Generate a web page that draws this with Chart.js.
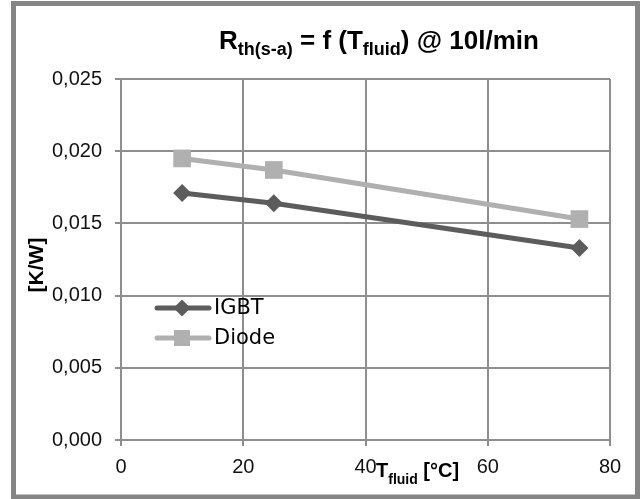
<!DOCTYPE html>
<html>
<head>
<meta charset="utf-8">
<script src="https://cdn.jsdelivr.net/npm/chart.js@4/dist/chart.umd.min.js"></script>
<style>
  html, body { margin: 0; padding: 0; background: #fff; }
  #wrap { width: 640px; height: 499px; position: relative; }
</style>
</head>
<body>
<div id="wrap"><canvas id="rthChart" width="640" height="499"></canvas></div>
<script>
// fluid temperature [°C] and thermal resistance heatsink-ambient [K/W]
var tFluid = [10, 25, 75];
var rthIgbt = [0.0171, 0.0164, 0.0133];
var rthDiode = [0.0195, 0.0187, 0.0153];
var seriesNames = ["IGBT", "Diode"];
var xTicks = [0, 20, 40, 60, 80];
var yTicks = [0, 0.005, 0.010, 0.015, 0.020, 0.025];

var igbtColor = '#5c5c5c';
var diodeColor = '#b0b0b0';
var gridColor = '#8e8e8e';

function toPoints(xs, ys) {
    return xs.map(function (x, i) { return { x: x, y: ys[i] }; });
}

// text pieces: [text, font, baseline shift]
function drawRich(ctx, x, y, parts) {
    parts.forEach(function (p) {
        ctx.font = p[1];
        ctx.fillText(p[0], x, y + p[2]);
        x += ctx.measureText(p[0]).width;
    });
}

var frameAndTitles = {
    id: 'frameAndTitles',
    beforeDraw: function (chart) {
        var ctx = chart.ctx;
        ctx.save();
        ctx.fillStyle = '#fff';
        ctx.fillRect(0, 0, chart.width, chart.height);
        ctx.restore();
    },
    afterDraw: function (chart) {
        var ctx = chart.ctx;
        ctx.save();
        // outer frame
        ctx.strokeStyle = '#858585';
        ctx.lineWidth = 5;
        ctx.strokeRect(13.5, 3.5, 624, 493.5);

        ctx.fillStyle = '#000';
        ctx.textBaseline = 'alphabetic';
        ctx.textAlign = 'left';
        var big = 'bold 26px "Liberation Sans", Arial, sans-serif';
        var sub = 'bold 18px "Liberation Sans", Arial, sans-serif';
        drawRich(ctx, 219, 49, [
            ['R', big, 0], ['th(s-a)', sub, 6], [' = f (T', big, 0],
            ['fluid', sub, 6], [') @ 10l/min', big, 0]
        ]);

        // x axis title
        var xb = 'bold 20px "Liberation Sans", Arial, sans-serif';
        var xs = 'bold 14px "Liberation Sans", Arial, sans-serif';
        drawRich(ctx, 376, 477, [['T', xb, 0], ['fluid', xs, 7], [' [°C]', xb, 0]]);

        // y axis title
        ctx.translate(37, 265);
        ctx.rotate(-Math.PI / 2);
        ctx.textAlign = 'center';
        ctx.textBaseline = 'middle';
        ctx.font = 'bold 21px "Liberation Sans", Arial, sans-serif';
        ctx.fillText('[K/W]', 0, 0);
        ctx.restore();

        // legend: line sample with marker
        ctx.save();
        chart.data.datasets.forEach(function (ds, i) {
            var ly = 308 + i * 30;
            ctx.strokeStyle = ds.borderColor;
            ctx.lineWidth = 5;
            ctx.lineCap = 'round';
            ctx.beginPath();
            ctx.moveTo(157, ly);
            ctx.lineTo(209, ly);
            ctx.stroke();
            ctx.fillStyle = ds.borderColor;
            ctx.beginPath();
            if (ds.pointStyle === 'rectRot') {
                ctx.moveTo(182, ly - 8.5);
                ctx.lineTo(190.5, ly);
                ctx.lineTo(182, ly + 8.5);
                ctx.lineTo(173.5, ly);
                ctx.closePath();
            } else {
                ctx.rect(174, ly - 8, 16, 16);
            }
            ctx.fill();
            ctx.fillStyle = '#000';
            ctx.font = '21px "DejaVu Sans", sans-serif';
            ctx.textBaseline = 'middle';
            ctx.fillText(ds.label, 214, ly + 1);
        });
        ctx.restore();
    }
};

var rthChart = new Chart(document.getElementById('rthChart'), {
    type: 'line',
    data: {
        datasets: [{
            label: seriesNames[0],
            data: toPoints(tFluid, rthIgbt),
            borderColor: igbtColor,
            backgroundColor: igbtColor,
            borderWidth: 5,
            pointStyle: 'rectRot',
            pointRadius: 9,
            pointBorderWidth: 0,
            pointBackgroundColor: igbtColor,
            tension: 0
        }, {
            label: seriesNames[1],
            data: toPoints(tFluid, rthDiode),
            borderColor: diodeColor,
            backgroundColor: diodeColor,
            borderWidth: 5,
            pointStyle: 'rect',
            pointRadius: 12.5,
            pointBorderWidth: 0,
            pointBackgroundColor: diodeColor,
            tension: 0
        }]
    },
    options: {
        responsive: false,
        animation: false,
        devicePixelRatio: 1,
        layout: { padding: { top: 79, right: 30, left: 0, bottom: 0 } },
        plugins: {
            legend: { display: false },
            title: { display: false },
            tooltip: { enabled: false }
        },
        scales: {
            x: {
                type: 'linear',
                min: 0,
                max: 80,
                afterFit: function (scale) { scale.height = 59; },
                afterBuildTicks: function (scale) {
                    scale.ticks = xTicks.map(function (v) { return { value: v }; });
                },
                grid: { color: gridColor, lineWidth: 2, tickLength: 6, tickColor: gridColor },
                border: { color: gridColor, width: 2 },
                ticks: {
                    color: '#111',
                    padding: 9,
                    maxRotation: 0,
                    font: { family: '"Liberation Sans", Arial, sans-serif', size: 20 }
                }
            },
            y: {
                type: 'linear',
                min: 0,
                max: 0.025,
                afterFit: function (scale) { scale.width = 121; },
                afterBuildTicks: function (scale) {
                    scale.ticks = yTicks.map(function (v) { return { value: v }; });
                },
                grid: { color: gridColor, lineWidth: 2, tickLength: 6, tickColor: gridColor },
                border: { color: gridColor, width: 2 },
                ticks: {
                    color: '#111',
                    padding: 13,
                    font: { family: '"Liberation Sans", Arial, sans-serif', size: 20 },
                    callback: function (v) { return v.toFixed(3).replace('.', ','); }
                }
            }
        }
    },
    plugins: [frameAndTitles]
});
</script>
</body>
</html>
